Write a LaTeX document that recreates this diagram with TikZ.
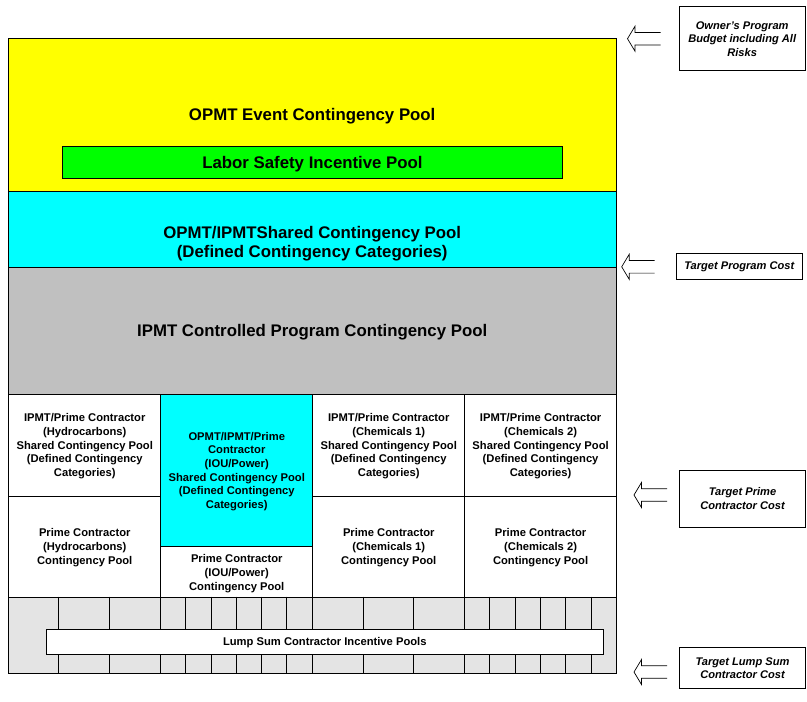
\documentclass[tikz,border=0pt]{standalone}
\usepackage{fontspec}
\setmainfont{Liberation Sans}
\definecolor{ylw}{RGB}{255,255,0}
\definecolor{grn}{RGB}{0,255,0}
\definecolor{cyn}{RGB}{0,255,255}
\definecolor{gry}{RGB}{192,192,192}
\definecolor{lgry}{RGB}{228,228,228}
\newcommand\fbig{\fontsize{16.8}{19}\selectfont\bfseries}
\newcommand\fsmall{\fontsize{11.2}{13.7}\selectfont\bfseries}
\newcommand\flab{\fontsize{11.1}{13.5}\selectfont\bfseries\itshape}
\begin{document}
\begin{tikzpicture}[x=1pt,y=-1pt,
  region/.style={draw=black, line width=0.9pt, anchor=north west, inner sep=0pt},
  celltxt/.style={font=\fsmall, align=center, inner sep=0pt, yshift=-1pt},
  bigtxt/.style={font=\fbig, align=center, inner sep=0pt},
  labbox/.style={draw=black, line width=0.8pt, font=\flab, align=center, inner sep=0pt},
  gridline/.style={draw=black, line width=1pt},
  arrowline/.style={draw=black, line width=0.7pt, line join=miter},
  openarrow/.pic={\draw[arrowline] (33,-6.3) -- (7.5,-6.3) -- (7.5,-12.5) -- (0,0) -- (7.5,12.5) -- (7.5,6.3) -- (33,6.3);}
]
\useasboundingbox (0,0) rectangle (807,702);

% top bands
\node[region, fill=ylw, minimum width=607.7pt, minimum height=152.4pt] (event) at (8.3,38.3) {};
\node[bigtxt] (eventtxt) at (312.2,116.5) {OPMT Event Contingency Pool};
\node[draw=black, line width=0.8pt, fill=grn, minimum width=500.4pt, minimum height=31.7pt, inner sep=0pt, font=\fbig, text height=12pt, text depth=0pt] (labor) at (312.5,162.2) {Labor Safety Incentive Pool};

\node[region, fill=cyn, minimum width=607.7pt, minimum height=76.3pt] (shared) at (8.3,190.7) {};
\node[bigtxt] (sharedtxt) at (312.2,243.5) {OPMT/IPMTShared Contingency Pool\\(Defined Contingency Categories)};

\node[region, fill=gry, minimum width=607.7pt, minimum height=127pt] (ipmt) at (8.3,267) {};
\node[bigtxt] (ipmttxt) at (312.2,332.5) {IPMT Controlled Program Contingency Pool};

% contractor cells
\node[region, fill=white, minimum width=152pt, minimum height=101.7pt] (hydS) at (8.3,394) {};
\node[celltxt] at (hydS.center) {IPMT/Prime Contractor\\(Hydrocarbons)\\Shared Contingency Pool\\(Defined Contingency\\Categories)};
\node[region, fill=white, minimum width=152pt, minimum height=101pt] (hydP) at (8.3,495.7) {};
\node[celltxt] at (hydP.center) {Prime Contractor\\(Hydrocarbons)\\Contingency Pool};

\node[region, fill=cyn, minimum width=152pt, minimum height=152pt] (iouS) at (160.3,394) {};
\node[celltxt] at (iouS.center) {OPMT/IPMT/Prime\\Contractor\\(IOU/Power)\\Shared Contingency Pool\\(Defined Contingency\\Categories)};
\node[region, fill=white, minimum width=152pt, minimum height=50.7pt] (iouP) at (160.3,546) {};
\node[celltxt, yshift=-1pt] at (iouP.center) {Prime Contractor\\(IOU/Power)\\Contingency Pool};

\node[region, fill=white, minimum width=152pt, minimum height=101.7pt] (ch1S) at (312.3,394) {};
\node[celltxt] at (ch1S.center) {IPMT/Prime Contractor\\(Chemicals 1)\\Shared Contingency Pool\\(Defined Contingency\\Categories)};
\node[region, fill=white, minimum width=152pt, minimum height=101pt] (ch1P) at (312.3,495.7) {};
\node[celltxt] at (ch1P.center) {Prime Contractor\\(Chemicals 1)\\Contingency Pool};

\node[region, fill=white, minimum width=151.7pt, minimum height=101.7pt] (ch2S) at (464.3,394) {};
\node[celltxt] at (ch2S.center) {IPMT/Prime Contractor\\(Chemicals 2)\\Shared Contingency Pool\\(Defined Contingency\\Categories)};
\node[region, fill=white, minimum width=151.7pt, minimum height=101pt] (ch2P) at (464.3,495.7) {};
\node[celltxt] at (ch2P.center) {Prime Contractor\\(Chemicals 2)\\Contingency Pool};

% lump sum band
\node[region, fill=lgry, minimum width=607.7pt, minimum height=76.3pt] (lumpband) at (8.3,596.7) {};
\foreach \x in {58.7,109.3,160.3,185.7,211,236.3,261.7,286.7,312.3,363,413.7,464.3,489.7,515,540,565.7,591}
  \draw[gridline] (\x,596.7) -- (\x,673);
\node[draw=black, line width=0.8pt, fill=white, minimum width=557pt, minimum height=25pt, inner sep=0pt, font=\fsmall, text height=8pt, text depth=0pt] (lump) at (324.8,641.5) {Lump Sum Contractor Incentive Pools};

% outer frame
\draw[line width=1pt] (8.3,38.3) rectangle (616,673);

% right-hand labels
\node[labbox, minimum width=125.7pt, minimum height=64pt] (budget) at (742.2,38.7) {Owner's Program\\Budget including All\\Risks};
\node[labbox, minimum width=126.7pt, minimum height=26pt] (tpc) at (739.3,266.3) {Target Program Cost};
\node[labbox, minimum width=126.4pt, minimum height=57pt] (tprime) at (742.5,498.5) {Target Prime\\Contractor Cost};
\node[labbox, minimum width=126pt, minimum height=41pt] (tlump) at (742.5,668) {Target Lump Sum\\Contractor Cost};

% open arrows
\coordinate (a1) at (627.5,38.7);
\coordinate (a2) at (621.7,266.8);
\coordinate (a3) at (634,495);
\coordinate (a4) at (634,672);
\pic at (a1) {openarrow};
\pic at (a2) {openarrow};
\pic at (a3) {openarrow};
\pic at (a4) {openarrow};
\end{tikzpicture}
\end{document}
